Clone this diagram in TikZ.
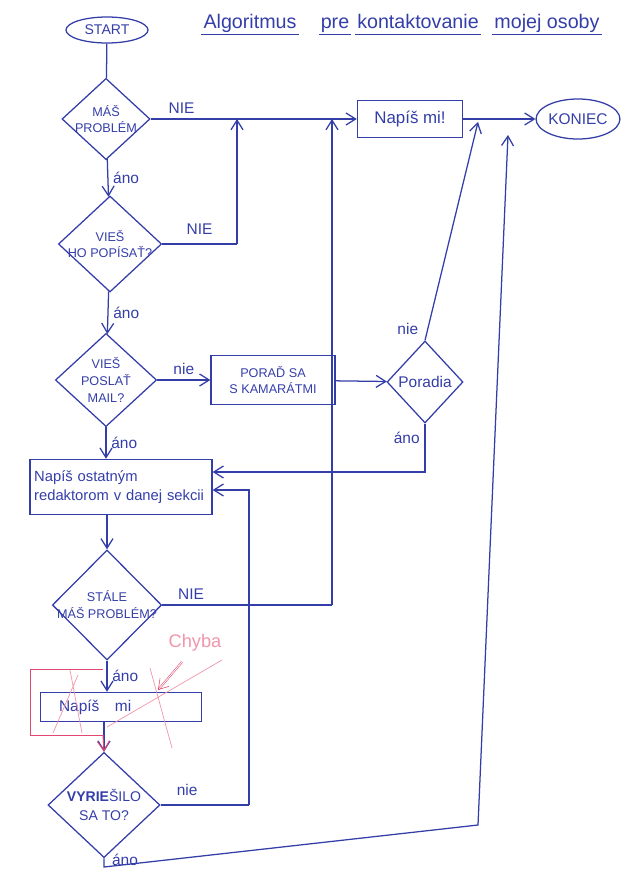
\documentclass[tikz,border=0pt]{standalone}
\usepackage{fontspec}
\setmainfont{Liberation Sans}
\usetikzlibrary{arrows.meta, shapes.geometric}
\definecolor{pen}{RGB}{52,62,168}
\definecolor{redpen}{RGB}{226,72,112}
\definecolor{pinkpen}{RGB}{240,150,170}

\begin{document}
\begin{tikzpicture}[x=0.025cm, y=-0.025cm, line width=0.9pt, pen,
  >={Straight Barb[length=2.4mm, width=3mm]},
  caps/.style={font=\fontsize{9}{12}\selectfont, align=center},
  lbl/.style={font=\fontsize{11}{13}\selectfont},
  title/.style={font=\fontsize{14}{17}\selectfont, inner sep=1pt, text height=0.75em, text depth=0.25em},
  decision/.style={draw, diamond, inner sep=0pt},
  box/.style={draw, rectangle, inner sep=3pt},
  term/.style={draw, ellipse, inner sep=0pt}]
\useasboundingbox (0,0) rectangle (638,875);

\node[term, minimum width=2.05cm, minimum height=0.65cm, font=\fontsize{10}{12}\selectfont] (start) at (107,30) {START};
\foreach \w/\x/\n in {Algoritmus/250/w1, pre/335/w2, kontaktovanie/418/w3, mojej osoby/547/w4}
  {\node[title] (\n) at (\x,25) {\w};
   \draw[line width=0.6pt] (\n.south west) -- (\n.south east);}

\node[decision, minimum width=2.2cm, minimum height=2.03cm, label={[caps]center:{MÁŠ\\PROBLÉM}}] (q1) at (106,119) {};
\node[box, minimum width=2.63cm, minimum height=0.93cm, font=\fontsize{12}{14}\selectfont] (napis) at (410,119) {Napíš mi!};
\node[term, minimum width=2.08cm, minimum height=1cm, font=\fontsize{11}{13}\selectfont] (koniec) at (578,119) {KONIEC};
\node[decision, minimum width=2.58cm, minimum height=2.4cm, label={[caps]center:{VIEŠ\\HO POPÍSAŤ?}}] (q2) at (110,244) {};
\node[decision, minimum width=2.53cm, minimum height=2.33cm, label={[caps]center:{VIEŠ\\POSLAŤ\\MAIL?}}] (q3) at (106,380) {};
\node[box, minimum width=3.1cm, minimum height=1.23cm, caps] (porad) at (273,380) {PORAĎ SA\\S KAMARÁTMI};
\node[decision, minimum width=1.9cm, minimum height=2.05cm, label={[lbl]center:Poradia}] (poradia) at (425,382) {};
\node[box, text width=4.34cm, minimum height=1.38cm, align=left, font=\fontsize{10.5}{14}\selectfont] (sekcia) at (121,487) {Napíš ostatným\\redaktorom v danej sekcii};
\node[decision, minimum width=2.73cm, minimum height=2.75cm, label={[caps]center:{STÁLE\\MÁŠ PROBLÉM?}}] (q4) at (107,605) {};
\node[box, text width=3.8cm, minimum height=0.73cm, align=left, lbl] (napis2) at (121,707) {\hspace{10pt}Napíš\quad mi};
\node[decision, minimum width=2.8cm, minimum height=2.63cm, label={[caps, font=\fontsize{10}{13}\selectfont]center:{{\bfseries VYRIE}ŠILO\\SA TO?}}] (q5) at (104,805) {};

\coordinate (c1) at (237,244);
\coordinate (c2) at (478,122);
\coordinate (c3) at (425,472);
\coordinate (c4) at (332,605);
\coordinate (c5) at (249,805);
\coordinate (c6) at (249,490);
\coordinate (c7) at (104,867);
\coordinate (c8) at (478,825);
\coordinate (c9) at (508,135);

\draw (start) -- (q1);
\draw[->] (q1.east) -- node[lbl, above, pos=0.15] {NIE} (napis.west);
\draw[->] (napis) -- (koniec);
\draw[->] (q1) -- node[lbl, right] {áno} (q2);
\draw (q2.east) -- node[lbl, above=3pt] {NIE} (c1);
\draw[->] (c1) -- (c1 |- q1.east);
\draw[->] (q2) -- node[lbl, right] {áno} (q3);
\draw[->] (q3) -- node[lbl, above] {nie} (porad);
\draw[->] (porad) -- (poradia);
\draw[->] (poradia.north) -- node[lbl, left=3pt, pos=0.05] {nie} (c2);
\draw[->] (poradia.south) -- node[lbl, left, pos=0.3] {áno} (c3) -- (c3 -| sekcia.east);
\draw[->] (q3.south) -- node[lbl, right] {áno} (q3.south |- sekcia.north);
\draw[->] (q4 |- sekcia.south) -- (q4.north);
\draw (q4.east) -- node[lbl, above, pos=0.17] {NIE} (c4);
\draw[->] (c4) -- (c4 |- q1.east);
\draw[->] (q4.south) -- node[lbl, right] {áno} (q4.south |- napis2.north);
\draw[->] (q5 |- napis2.south) -- (q5.north);
\draw (q5.east) -- node[lbl, above=3pt, pos=0.3] {nie} (c5);
\draw[->] (c5) -- (c6) -- (c6 -| sekcia.east);
\draw[->] (q5.south) -- node[lbl, right=2pt, pos=0.2] {áno} (c7) -- (c8) -- (c9);

\coordinate (r1) at (103,669);
\coordinate (r2) at (30,669);
\coordinate (r3) at (30,735);
\coordinate (r4) at (103,735);
\draw[redpen, line width=0.7pt] (r1) -- (r2) -- (r3) -- (r4);
\draw[redpen, line width=0.7pt, ->] (r4) -- (q5.north);
\draw[pinkpen, line width=0.5pt] (53,733) -- (78,675) (70,670) -- (82,733)
  (107,727) -- (222,660) (150,668) -- (172,748);
\node[text=pinkpen, font=\fontsize{13}{15}\selectfont] (chyba) at (195,643) {Chyba};
\draw[redpen, line width=0.4pt, double, ->] (182,662) -- (158,690);
\end{tikzpicture}
\end{document}
